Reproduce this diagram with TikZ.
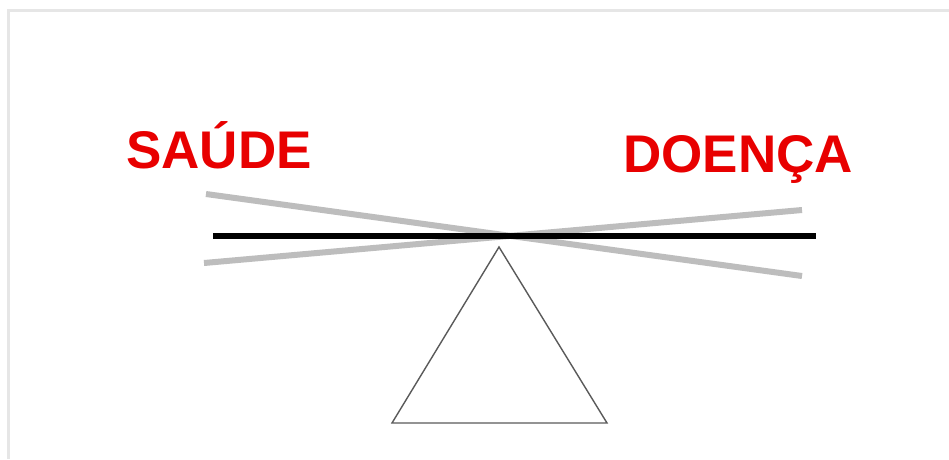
\documentclass[tikz,border=0pt]{standalone}
\usepackage{fontspec}
\setmainfont{Liberation Sans}
\definecolor{lbl}{HTML}{E80000}
\definecolor{frm}{HTML}{E6E6E6}
\definecolor{tilt}{HTML}{BDBDBD}
\definecolor{tri}{HTML}{5A5A5A}
\begin{document}
\begin{tikzpicture}[x=1pt,y=-1pt,
  label/.style={text=lbl,font=\fontsize{53}{60}\selectfont\bfseries,inner sep=0pt,anchor=base west},
  tiltbeam/.style={draw=tilt,line width=6pt},
  levelbeam/.style={draw=black,line width=6pt},
  fulcrum/.style={draw=tri,line width=1.4pt,line join=miter}]
\useasboundingbox (0,0) rectangle (949,459);
\fill[white] (0,0) rectangle (949,459);
% frame
\draw[frm,line width=3pt] (8,459) -- (8,10) -- (949,10);
% text
\node[label] (saude) at (126,168) {SAÚDE};
\node[label] (doenca) at (623,172) {DOENÇA};
% tilted beams
\coordinate (t1a) at (206,194);
\coordinate (t1b) at (802,276);
\coordinate (t2a) at (204,263);
\coordinate (t2b) at (802,210);
\draw[tiltbeam] (t1a) -- (t1b);
\draw[tiltbeam] (t2a) -- (t2b);
% level beam
\coordinate (la) at (213,235.5);
\coordinate (lb) at (816,235.5);
\draw[levelbeam] (la) -- (lb);
% fulcrum
\coordinate (apex) at (499,247);
\coordinate (bl) at (392,423);
\coordinate (br) at (607,423);
\draw[fulcrum] (apex) -- (bl) -- (br) -- cycle;
\end{tikzpicture}
\end{document}
